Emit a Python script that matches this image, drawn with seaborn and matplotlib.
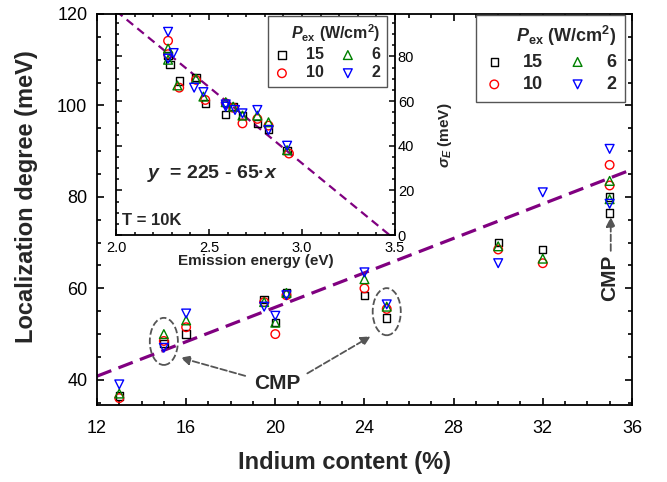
import matplotlib
matplotlib.use("Agg")
import matplotlib.pyplot as plt
import seaborn as sns
from matplotlib.patches import Ellipse
from matplotlib.ticker import MultipleLocator

# main panel: localization degree vs indium content, one list per excitation power
indium = [13, 15, 16, 19.5, 20, 20.5, 24, 25, 30, 32, 35, 35]
loc_15 = [36.5, 48.0, 50.0, 57.5, 52.5, 59.0, 58.5, 53.5, 70.0, 68.5, 80.0, 76.5]
loc_10 = [36.0, 48.5, 51.5, 57.0, 50.0, 58.5, 60.0, 55.5, 68.5, 65.5, 87.0, 82.5]
loc_6 = [37.0, 50.0, 53.0, 57.0, 52.5, 59.0, 62.0, 56.0, 69.2, 66.5, 83.5, 79.5]
loc_2 = [39.0, 47.0, 54.5, 56.0, 54.0, 58.5, 63.5, 56.5, 65.5, 81.0, 90.5, 78.5]

# inset: sigma_E vs emission energy
en_15 = [2.28, 2.29, 2.34, 2.43, 2.48, 2.59, 2.63, 2.68, 2.76, 2.82, 2.92]
sig_15 = [80.5, 76.5, 69.0, 70.5, 59.0, 54.0, 57.5, 53.5, 50.0, 47.5, 38.0]
en_10 = [2.28, 2.28, 2.34, 2.43, 2.48, 2.59, 2.63, 2.68, 2.76, 2.82, 2.93]
sig_10 = [87.0, 81.0, 66.0, 69.5, 60.5, 59.0, 57.0, 50.0, 52.0, 49.0, 36.5]
en_6 = [2.28, 2.28, 2.33, 2.43, 2.47, 2.59, 2.63, 2.68, 2.76, 2.82, 2.92]
sig_6 = [83.5, 78.5, 67.0, 70.0, 62.0, 59.5, 57.5, 53.5, 53.5, 50.5, 38.0]
en_2 = [2.28, 2.28, 2.31, 2.42, 2.47, 2.59, 2.59, 2.64, 2.68, 2.76, 2.82, 2.92]
sig_2 = [91.0, 79.0, 81.5, 66.0, 64.0, 57.5, 58.5, 56.0, 54.5, 56.0, 47.0, 40.0]

# guide lines
fit_main_x = [12, 36]
fit_main_y = [40.8, 86.0]
fit_in_x = [2.0, 3.5]
fit_in_y = [100.4, -2.0]

labels = ["15", "10", "6", "2"]
markers = ["s", "o", "^", "v"]
colors = ["black", "red", "green", "blue"]
sizes = [28, 38, 40, 40]

sns.set_theme(style="ticks")
plt.rcParams["font.family"] = ["Liberation Sans", "DejaVu Sans"]
plt.rcParams["mathtext.fontset"] = "custom"
plt.rcParams["mathtext.rm"] = "Liberation Sans:bold"
plt.rcParams["mathtext.it"] = "Liberation Sans:italic:bold"
plt.rcParams["mathtext.bf"] = "Liberation Sans:bold"
plt.rcParams["axes.edgecolor"] = "black"
plt.rcParams["axes.linewidth"] = 1.3
plt.rcParams["xtick.color"] = "black"
plt.rcParams["ytick.color"] = "black"

fig = plt.figure(figsize=(6.67, 4.82), dpi=100)
ax = fig.add_axes([0.1454, 0.1598, 0.802, 0.8112])

sns.lineplot(x=fit_main_x, y=fit_main_y, ax=ax, color="#800080", lw=2.3,
             linestyle=(0, (4.8, 2.4)), zorder=1)

main_y = [loc_15, loc_10, loc_6, loc_2]
for yy, lab, m, c, s in zip(main_y, labels, markers, colors, sizes):
    sns.scatterplot(x=indium, y=yy, ax=ax, marker=m, s=s, color=c,
                    facecolors="none", edgecolor=c, linewidth=1.0,
                    label=lab, zorder=3)

ax.set_xlim(12, 36)
ax.set_ylim(34.5, 120)
ax.xaxis.set_major_locator(MultipleLocator(4))
ax.xaxis.set_minor_locator(MultipleLocator(1))
ax.yaxis.set_major_locator(MultipleLocator(20))
ax.yaxis.set_minor_locator(MultipleLocator(5))
ax.tick_params(which="both", direction="in", top=True, right=True, width=1.2)
ax.tick_params(which="major", length=5, labelsize=13, pad=7)
ax.tick_params(axis="x", which="major", pad=11)
ax.tick_params(which="minor", length=3)

ax.set_xlabel("Indium content (%)", fontsize=17, fontweight="bold")
ax.set_ylabel("Localization degree (meV)", fontsize=17, fontweight="bold")
ax.xaxis.set_label_coords(0.463, -0.118)
ax.yaxis.set_label_coords(-0.11, 0.532)

leg = ax.legend(ncol=2, loc="upper right", bbox_to_anchor=(0.988, 0.997),
                borderaxespad=0, title=r"$P_{\rm ex}$ (W/cm$^{2}$)",
                prop={"weight": "bold", "size": 13},
                title_fontproperties={"weight": "bold", "size": 13},
                handlelength=1.0, handletextpad=1.1, columnspacing=1.4,
                labelspacing=0.3, borderpad=0.5, scatterpoints=1,
                fancybox=False, framealpha=1, edgecolor="#555555",
                alignment="right")
leg.get_frame().set_linewidth(1.0)

# CMP annotations
gray = "#555555"
ax.add_patch(Ellipse((15.0, 48.4), 1.26, 10.3, fill=False, ls="--", ec=gray, lw=1.3))
ax.add_patch(Ellipse((25.0, 54.9), 1.26, 10.3, fill=False, ls="--", ec=gray, lw=1.3))
ax.text(20.08, 39.3, "CMP", ha="center", va="center", fontsize=15, fontweight="bold")
arr = dict(arrowstyle="-|>", ls="--", color=gray, lw=1.3, mutation_scale=14)
ax.annotate("", xy=(15.63, 45.0), xytext=(18.77, 40.7), arrowprops=arr)
ax.annotate("", xy=(24.38, 49.8), xytext=(21.33, 41.1), arrowprops=arr)
ax.text(35.0, 62.3, "CMP", rotation=90, ha="center", va="center",
        fontsize=15, fontweight="bold")
ax.annotate("", xy=(35.05, 76.2), xytext=(35.05, 67.6), arrowprops=arr)

# inset
axin = fig.add_axes([0.1739, 0.5124, 0.4183, 0.4586])
axin.set_facecolor("white")
sns.lineplot(x=fit_in_x, y=fit_in_y, ax=axin, color="#800080", lw=1.6,
             linestyle=(0, (3.8, 2.4)), zorder=1)
in_x = [en_15, en_10, en_6, en_2]
in_y = [sig_15, sig_10, sig_6, sig_2]
for xx, yy, lab, m, c, s in zip(in_x, in_y, labels, markers, colors, sizes):
    sns.scatterplot(x=xx, y=yy, ax=axin, marker=m, s=s, color=c,
                    facecolors="none", edgecolor=c, linewidth=1.0,
                    label=lab, zorder=3)

axin.set_xlim(2.0, 3.5)
axin.set_ylim(0, 99)
axin.xaxis.set_major_locator(MultipleLocator(0.5))
axin.xaxis.set_minor_locator(MultipleLocator(0.1))
axin.yaxis.set_major_locator(MultipleLocator(20))
axin.yaxis.set_minor_locator(MultipleLocator(5))
axin.set_xticks([2.0, 2.5, 3.0, 3.5], ["2.0", "2.5", "3.0", "3.5"])
axin.tick_params(which="both", direction="in", top=True, right=True, left=True,
                 labelleft=False, labelright=True, width=1.1)
axin.tick_params(which="major", length=4, labelsize=10.5, pad=2)
axin.tick_params(axis="x", which="major", pad=4.5)
axin.tick_params(which="minor", length=2.5)
axin.set_xlabel("Emission energy (eV)", fontsize=11, fontweight="bold")
axin.xaxis.set_label_coords(0.5, -0.085)
axin.yaxis.set_label_position("right")
axin.set_ylabel(r"$\sigma_E$ (meV)", fontsize=11, fontweight="bold")
axin.yaxis.set_label_coords(1.147, 0.45)

axin.text(2.167, 27.7, "$y$  = 225 - 65·$x$", fontsize=14, fontweight="bold",
          ha="left", va="center")
axin.text(2.03, 6.7, "T = 10K", fontsize=12, fontweight="bold",
          ha="left", va="center")

leg2 = axin.legend(ncol=2, loc="upper right", bbox_to_anchor=(0.972, 0.991),
                   borderaxespad=0, title=r"$P_{\rm ex}$ (W/cm$^{2}$)",
                   prop={"weight": "bold", "size": 11.5},
                   title_fontproperties={"weight": "bold", "size": 11.5},
                   handlelength=1.0, handletextpad=1.0, columnspacing=1.0,
                   labelspacing=0.2, borderpad=0.4, scatterpoints=1,
                   fancybox=False, framealpha=1, edgecolor="#555555",
                   alignment="right")
leg2.get_frame().set_linewidth(1.0)

fig.savefig("out.png", dpi=100)
